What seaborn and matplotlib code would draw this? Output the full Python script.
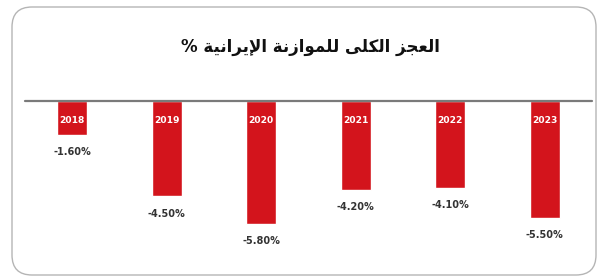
import matplotlib
matplotlib.use('Agg')
import matplotlib.pyplot as plt
from matplotlib.patches import FancyBboxPatch
import seaborn as sns
import pandas as pd

# ── Data ─────────────────────────────────────
years = ['2018', '2019', '2020', '2021', '2022', '2023']
deficit = [-1.6, -4.5, -5.8, -4.2, -4.1, -5.5]
value_labels = ['-1.60%', '-4.50%', '-5.80%', '-4.20%', '-4.10%', '-5.50%']
title = 'العجز الكلى للموازنة الإيرانية %'

# ── Tiny Arabic shaper (matplotlib has no RTL shaping) ──
# char -> (isolated, final, initial, medial); None = no left join
FORMS = {
    'ا': (0xFE8D, 0xFE8E, None, None),
    'إ': (0xFE87, 0xFE88, None, None),
    'ل': (0xFEDD, 0xFEDE, 0xFEDF, 0xFEE0),
    'ع': (0xFEC9, 0xFECA, 0xFECB, 0xFECC),
    'ج': (0xFE9D, 0xFE9E, 0xFE9F, 0xFEA0),
    'ز': (0xFEAF, 0xFEB0, None, None),
    'ك': (0xFED9, 0xFEDA, 0xFEDB, 0xFEDC),
    'ى': (0xFEEF, 0xFEF0, None, None),
    'م': (0xFEE1, 0xFEE2, 0xFEE3, 0xFEE4),
    'و': (0xFEED, 0xFEEE, None, None),
    'ن': (0xFEE5, 0xFEE6, 0xFEE7, 0xFEE8),
    'ة': (0xFE93, 0xFE94, None, None),
    'ي': (0xFEF1, 0xFEF2, 0xFEF3, 0xFEF4),
    'ر': (0xFEAD, 0xFEAE, None, None),
}
LAM_ALEF = {'ا': (0xFEFB, 0xFEFC), 'إ': (0xFEF9, 0xFEFA)}


def shape(text):
    # merge lam + alef into ligature tokens
    toks = []
    i = 0
    while i < len(text):
        if text[i] == 'ل' and i + 1 < len(text) and text[i + 1] in LAM_ALEF:
            toks.append(('LA', text[i + 1]))
            i += 2
        else:
            toks.append(('C', text[i]))
            i += 1

    def joins_left(t):
        if t[0] == 'LA':
            return False
        f = FORMS.get(t[1])
        return f is not None and f[2] is not None

    def is_arabic(t):
        return t[0] == 'LA' or t[1] in FORMS

    out = []
    for k, t in enumerate(toks):
        prev_j = k > 0 and joins_left(toks[k - 1]) and is_arabic(toks[k - 1])
        next_a = k + 1 < len(toks) and is_arabic(toks[k + 1])
        if t[0] == 'LA':
            iso, fin = LAM_ALEF[t[1]]
            out.append(chr(fin if prev_j else iso))
            continue
        f = FORMS.get(t[1])
        if f is None:
            out.append(t[1])
            continue
        can_left = f[2] is not None and next_a
        if prev_j and can_left:
            out.append(chr(f[3]))
        elif prev_j:
            out.append(chr(f[1]))
        elif can_left:
            out.append(chr(f[2]))
        else:
            out.append(chr(f[0]))
    return ''.join(reversed(out))


# ── Figure ───────────────────────────────────
sns.set_style('white')
plt.rcParams['font.family'] = ['DejaVu Sans']

fig = plt.figure(figsize=(6.08, 2.77), dpi=100)
ax = fig.add_axes([25 / 608, 17 / 277, 567 / 608, 159 / 277])

df = pd.DataFrame({'year': years, 'deficit': deficit})
sns.barplot(data=df, x='year', y='deficit', color='#d3141c',
            saturation=1, width=0.32, ax=ax)

ax.set_xlim(-0.5, 5.5)
ax.set_ylim(-7.5, 0)
ax.axhline(0, color='#7a7a7a', lw=1.6, clip_on=False, zorder=5)
ax.set_axis_off()

for p, yr, v, lab in zip(ax.patches, years, deficit, value_labels):
    cx = p.get_x() + p.get_width() / 2
    ax.text(cx, -0.94, yr, color='white', fontsize=6.6,
            fontweight='bold', ha='center', va='center')
    ax.text(cx, v - 0.82, lab, color='#333333', fontsize=7,
            fontweight='bold', ha='center', va='center')

fig.text(310 / 608, 1 - 47 / 277, shape(title), fontsize=12,
         fontweight='bold', ha='center', va='center', color='#111111')

# rounded frame (pixel coords)
frame = FancyBboxPatch((12, 2), 584, 268,
                       boxstyle='round,pad=0,rounding_size=20',
                       transform=None, fill=False,
                       edgecolor='#b5b5b5', lw=1.0)
fig.patches.append(frame)

fig.savefig('out.png', dpi=100)
